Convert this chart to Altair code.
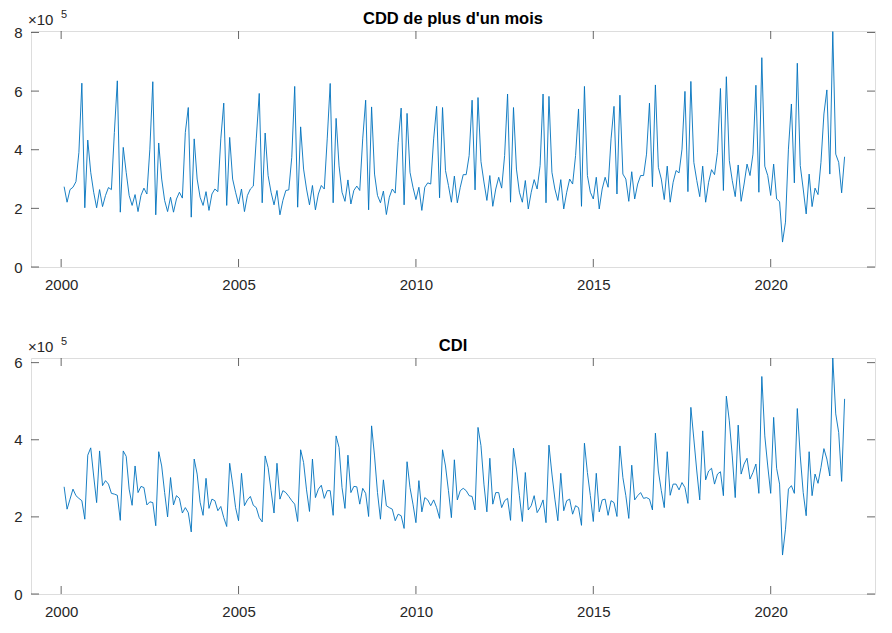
import altair as alt
import pandas as pd

start_year = 2000
x_ticks = [2000, 2005, 2010, 2015, 2020]
cdd_yticks = [0, 2, 4, 6, 8]
cdi_yticks = [0, 2, 4, 6]
titles = ["CDD de plus d'un mois", "CDI"]
exponent_base = "×10"
exponent = "5"

# monthly values (x 1e5), Jan 2000 .. Jan 2022
cdd_values = [
    2.74, 2.21, 2.64, 2.72, 2.91, 3.91, 6.27, 2.02, 4.33, 3.23, 2.55, 2.02,
    2.64, 2.06, 2.44, 2.71, 2.64, 4.59, 6.35, 1.87, 4.08, 3.23, 2.44, 2.10,
    2.47, 1.89, 2.44, 2.69, 2.49, 4.02, 6.32, 1.78, 4.23, 3.00, 2.27, 1.89,
    2.38, 1.87, 2.32, 2.55, 2.35, 4.59, 5.44, 1.70, 4.37, 3.00, 2.38, 2.10,
    2.57, 1.93, 2.49, 2.66, 2.57, 4.37, 5.59, 2.10, 4.42, 3.00, 2.55, 2.15,
    2.66, 1.89, 2.44, 2.66, 2.76, 4.37, 5.92, 2.19, 4.57, 3.12, 2.55, 2.12,
    2.61, 1.78, 2.27, 2.61, 2.63, 3.74, 6.16, 2.04, 4.78, 3.34, 2.66, 2.12,
    2.78, 1.95, 2.49, 2.78, 2.66, 4.37, 6.26, 2.19, 5.07, 3.45, 2.55, 2.24,
    2.97, 2.15, 2.61, 2.76, 2.61, 4.37, 5.69, 1.95, 5.46, 3.17, 2.44, 2.19,
    2.59, 1.79, 2.38, 2.66, 2.52, 4.25, 5.42, 2.12, 5.24, 3.23, 2.72, 2.30,
    2.72, 1.93, 2.72, 2.87, 2.83, 4.37, 5.48, 2.36, 5.44, 3.29, 2.78, 2.21,
    3.10, 2.19, 2.72, 3.15, 3.15, 3.80, 5.69, 2.63, 5.78, 3.60, 2.90, 2.27,
    3.12, 2.07, 2.66, 3.06, 2.69, 3.80, 5.90, 2.21, 5.44, 3.34, 2.55, 2.21,
    2.95, 1.98, 2.55, 2.98, 2.66, 3.46, 5.90, 2.19, 5.82, 3.23, 2.66, 2.27,
    2.98, 1.98, 2.55, 3.00, 2.83, 3.80, 5.39, 2.07, 6.16, 3.12, 2.55, 2.32,
    3.06, 1.98, 2.66, 3.06, 2.72, 4.37, 5.48, 2.49, 5.86, 3.17, 3.00, 2.24,
    3.25, 2.32, 2.83, 3.12, 3.12, 3.85, 5.59, 2.74, 6.21, 3.40, 3.00, 2.30,
    3.44, 2.21, 2.89, 3.29, 3.21, 4.02, 5.99, 2.57, 6.33, 3.57, 2.95, 2.40,
    3.44, 2.21, 2.89, 3.32, 3.15, 3.91, 6.09, 2.61, 6.49, 3.63, 2.95, 2.40,
    3.48, 2.24, 2.83, 3.51, 3.12, 3.85, 6.20, 2.55, 7.14, 3.44, 3.12, 2.44,
    3.51, 2.32, 2.23, 0.85, 1.53, 4.02, 5.56, 2.87, 6.95, 3.46, 2.66, 1.81,
    3.17, 2.06, 2.69, 2.47, 3.57, 5.22, 6.04, 3.17, 8.03, 3.85, 3.57, 2.53,
    3.76,
]

cdi_values = [
    2.78, 2.20, 2.46, 2.72, 2.55, 2.48, 2.42, 1.94, 3.60, 3.79, 3.06, 2.37,
    3.71, 2.81, 2.94, 2.85, 2.61, 2.59, 2.56, 1.91, 3.71, 3.57, 2.72, 2.30,
    3.32, 2.63, 2.79, 2.76, 2.31, 2.39, 2.37, 1.77, 3.69, 3.32, 2.63, 2.00,
    3.02, 2.31, 2.55, 2.48, 2.10, 2.24, 2.11, 1.61, 3.50, 3.11, 2.38, 2.04,
    3.00, 2.22, 2.46, 2.42, 2.16, 2.27, 1.98, 1.75, 3.39, 2.85, 2.24, 1.90,
    3.13, 2.29, 2.44, 2.53, 2.30, 2.24, 1.98, 1.87, 3.58, 3.28, 2.68, 2.10,
    3.39, 2.46, 2.68, 2.63, 2.53, 2.42, 2.33, 1.88, 3.74, 3.41, 2.70, 2.14,
    3.50, 2.50, 2.72, 2.82, 2.48, 2.68, 2.68, 2.04, 4.10, 3.80, 2.76, 2.22,
    3.60, 2.63, 2.79, 2.78, 2.33, 2.74, 2.61, 2.01, 4.36, 3.58, 2.63, 1.94,
    2.96, 2.29, 2.24, 2.20, 1.90, 2.07, 2.03, 1.70, 3.43, 2.76, 2.33, 1.85,
    2.94, 2.13, 2.50, 2.44, 2.29, 2.44, 2.24, 1.96, 3.74, 3.32, 2.68, 1.98,
    3.48, 2.44, 2.68, 2.74, 2.68, 2.55, 2.53, 2.18, 4.32, 3.85, 2.85, 2.13,
    3.52, 2.33, 2.63, 2.63, 2.24, 2.42, 2.48, 1.91, 3.78, 3.24, 2.55, 1.88,
    3.15, 2.18, 2.29, 2.55, 2.11, 2.24, 2.44, 1.85, 3.86, 3.11, 2.46, 1.90,
    3.13, 2.16, 2.42, 2.46, 2.07, 2.29, 2.24, 1.78, 3.91, 3.15, 2.55, 1.88,
    3.13, 2.13, 2.44, 2.46, 2.04, 2.42, 2.37, 2.01, 3.84, 3.02, 2.55, 1.96,
    3.34, 2.44, 2.55, 2.63, 2.48, 2.50, 2.46, 2.18, 4.17, 3.19, 2.68, 2.24,
    3.69, 2.56, 2.85, 2.85, 2.70, 2.89, 2.76, 2.35, 4.84, 4.02, 3.19, 2.44,
    4.23, 2.96, 3.19, 3.26, 2.85, 3.11, 3.17, 2.55, 5.13, 4.49, 3.58, 2.50,
    4.38, 3.11, 3.37, 3.52, 2.98, 3.15, 3.37, 2.61, 5.64, 4.10, 3.32, 2.61,
    4.58, 3.26, 2.85, 1.01, 1.68, 2.72, 2.81, 2.61, 4.81, 3.58, 2.63, 2.03,
    3.69, 2.55, 3.11, 2.87, 3.28, 3.77, 3.50, 3.06, 6.12, 4.67, 4.19, 2.92,
    5.06,
]

W, H = 844, 236
TICK = 8
COL = "#262626"
LINE = "#0072BD"
FONT = "Liberation Sans"
LABEL_SIZE = 15
XDOM = [1999.15, 2022.94]


def panel(values, yticks, ymax, title):
    dates = [start_year + (k + 1) / 12 for k in range(len(values))]
    df = pd.DataFrame({"t": dates, "v": values})
    xs = alt.Scale(domain=XDOM, nice=False, zero=False)
    ys = alt.Scale(domain=[0, ymax], nice=False)
    xaxis = alt.Axis(
        values=x_ticks, format="d", ticks=False, domain=False, grid=False,
        labelPadding=10, labelFontSize=LABEL_SIZE, labelColor=COL, labelFont=FONT,
        title=None)
    yaxis = alt.Axis(
        values=yticks, format="d", ticks=False, domain=False, grid=False,
        labelPadding=9, labelFontSize=LABEL_SIZE, labelColor=COL, labelFont=FONT,
        title=None)
    line = alt.Chart(df).mark_line(color=LINE, strokeWidth=0.9, clip=True).encode(
        x=alt.X("t:Q", scale=xs, axis=xaxis),
        y=alt.Y("v:Q", scale=ys, axis=yaxis),
    )
    xt = pd.DataFrame({"t": x_ticks})
    yt = pd.DataFrame({"v": yticks})
    rule = dict(color=COL, strokeWidth=0.7)
    xb = alt.Chart(xt).mark_rule(**rule).encode(
        x=alt.X("t:Q", scale=xs, axis=xaxis), y=alt.value(H), y2=alt.value(H - TICK))
    xtp = alt.Chart(xt).mark_rule(**rule).encode(
        x=alt.X("t:Q", scale=xs, axis=xaxis), y=alt.value(0), y2=alt.value(TICK))
    yl = alt.Chart(yt).mark_rule(**rule).encode(
        y=alt.Y("v:Q", scale=ys, axis=yaxis), x=alt.value(0), x2=alt.value(TICK))
    yr = alt.Chart(yt).mark_rule(**rule).encode(
        y=alt.Y("v:Q", scale=ys, axis=yaxis), x=alt.value(W), x2=alt.value(W - TICK))
    tdf = pd.DataFrame({"s": [title], "b": [exponent_base], "e": [exponent]})
    tmark = alt.Chart(tdf).mark_text(
        font=FONT, fontSize=16.5, fontWeight="bold", color="#000000",
        align="center", baseline="alphabetic").encode(
        x=alt.value(W / 2), y=alt.value(-7), text="s:N")
    bmark = alt.Chart(tdf).mark_text(
        font=FONT, fontSize=LABEL_SIZE, color=COL, align="left", baseline="alphabetic").encode(
        x=alt.value(-3), y=alt.value(-6), text="b:N")
    emark = alt.Chart(tdf).mark_text(
        font=FONT, fontSize=11, color=COL, align="left", baseline="alphabetic").encode(
        x=alt.value(30), y=alt.value(-13), text="e:N")
    return alt.layer(line, xb, xtp, yl, yr, tmark, bmark, emark).properties(width=W, height=H)


top = panel(cdd_values, cdd_yticks, 8.05, titles[0])
bottom = panel(cdi_values, cdi_yticks, 6.12, titles[1])

chart = alt.vconcat(top, bottom, spacing=91, bounds="flush").properties(
    padding={"left": 5, "top": 0, "right": 5, "bottom": 5}
).configure_view(
    stroke=COL, strokeWidth=0.7
).configure(background="white")

chart.save("out.html", embed_options={"renderer": "svg", "actions": False})
